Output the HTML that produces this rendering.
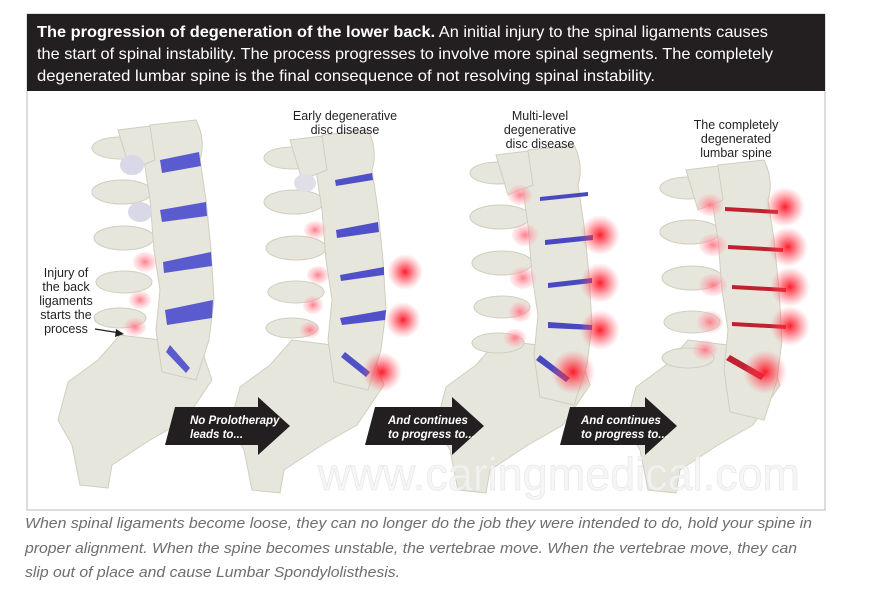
<!DOCTYPE html>
<html><head><meta charset="utf-8"><style>
html,body{margin:0;padding:0;background:#fff;width:885px;height:589px;overflow:hidden}
svg{display:block}
</style></head><body>
<svg width="885" height="589" viewBox="0 0 885 589" xmlns="http://www.w3.org/2000/svg">
<defs>
<radialGradient id="rg"><stop offset="0" stop-color="#ff1020" stop-opacity="0.95"/><stop offset="0.4" stop-color="#ff3040" stop-opacity="0.6"/><stop offset="1" stop-color="#ff6070" stop-opacity="0"/></radialGradient>
<radialGradient id="pk"><stop offset="0" stop-color="#ff7080" stop-opacity="0.9"/><stop offset="1" stop-color="#ffb0b8" stop-opacity="0.2"/></radialGradient>
<g id="sac" fill="#e7e6dc" stroke="#cfcebf" stroke-width="1">
  <path d="M120,335 L200,345 L212,380 L185,420 L150,440 L112,465 L108,488 L80,485 L72,445 L58,420 L68,382 L98,360 Z"/>
</g>
<g id="bones" fill="#e7e6dc" stroke="#cfcebf" stroke-width="1">
  <ellipse cx="120" cy="148" rx="28" ry="11"/>
  <ellipse cx="122" cy="192" rx="30" ry="12"/>
  <ellipse cx="124" cy="238" rx="30" ry="12"/>
  <ellipse cx="124" cy="282" rx="28" ry="11"/>
  <ellipse cx="120" cy="318" rx="26" ry="10"/>
  <path d="M150,125 L196,120 Q206,140 200,160 L206,200 L211,250 L214,300 L209,340 L196,380 L162,372 L156,330 L160,290 L154,250 L150,200 L144,160 Z"/>
  <path d="M118,130 L150,126 L155,160 L130,170 Z"/>
</g>
</defs>

<rect x="27" y="14" width="798" height="496" fill="#fff" stroke="#bbb" stroke-width="1"/>
<rect x="27" y="14" width="798" height="77" fill="#231f20"/>

<g font-family="'Liberation Sans',sans-serif" fill="#fff" font-size="16">
<text x="37" y="37" textLength="731" lengthAdjust="spacingAndGlyphs"><tspan font-weight="bold">The progression of degeneration of the lower back.</tspan> An initial injury to the spinal ligaments causes</text>
<text x="37" y="59" textLength="736" lengthAdjust="spacingAndGlyphs">the start of spinal instability. The process progresses to involve more spinal segments. The completely</text>
<text x="37" y="81" textLength="618" lengthAdjust="spacingAndGlyphs">degenerated lumbar spine is the final consequence of not resolving spinal instability.</text>
</g>

<!-- sacra (no vertical shift) -->
<use href="#sac"/>
<g transform="translate(172,5)"><use href="#sac"/></g>
<g transform="translate(378,5)"><use href="#sac"/></g>
<g transform="translate(568,5)"><use href="#sac"/></g>

<text x="318" y="490" font-family="'Liberation Sans',sans-serif" font-size="46" fill="#f4f4f4" fill-opacity="0.8" stroke="#e4e4e4" stroke-width="0.6" textLength="482" lengthAdjust="spacingAndGlyphs">www.caringmedical.com</text>

<!-- spine 1 -->
<use href="#bones"/>
<g fill="#5b5bd0">
<path d="M160,160 L199,152 L201,166 L162,173 Z"/>
<path d="M160,210 L206,202 L207,216 L162,222 Z"/>
<path d="M163,262 L211,252 L212,266 L164,273 Z"/>
<path d="M165,310 L213,300 L212,318 L167,325 Z"/>
<path d="M170,345 L190,368 L186,373 L166,352 Z"/>
</g>
<g fill="#d8d8e8"><ellipse cx="132" cy="165" rx="12" ry="10"/><ellipse cx="140" cy="212" rx="12" ry="10"/></g>
<g fill="url(#pk)"><ellipse cx="145" cy="262" rx="12" ry="10"/><ellipse cx="140" cy="300" rx="11" ry="9"/><ellipse cx="135" cy="327" rx="11" ry="9"/></g>

<!-- spine 2 -->
<g transform="translate(172,10)"><use href="#bones"/></g>
<g fill="#5050c8">
<path d="M335,180 L372,173 L373,180 L336,186 Z"/>
<path d="M336,230 L378,222 L379,232 L337,238 Z"/>
<path d="M340,275 L384,267 L384,275 L341,281 Z"/>
<path d="M340,318 L386,310 L385,320 L342,325 Z"/>
<path d="M345,352 L370,372 L366,377 L341,357 Z"/>
</g>
<g fill="#e0dfe8"><ellipse cx="305" cy="183" rx="11" ry="9"/></g>
<g fill="url(#pk)"><ellipse cx="315" cy="230" rx="11" ry="9"/><ellipse cx="318" cy="275" rx="11" ry="9"/><ellipse cx="313" cy="305" rx="10" ry="9"/><ellipse cx="310" cy="330" rx="10" ry="8"/></g>
<g fill="url(#rg)"><circle cx="405" cy="272" r="18"/><circle cx="403" cy="320" r="18"/><circle cx="382" cy="372" r="20"/></g>

<!-- spine 3 -->
<g transform="translate(378,25)"><use href="#bones"/></g>
<g fill="#4848c0">
<path d="M540,197 L588,192 L588,196 L540,201 Z"/>
<path d="M545,240 L593,235 L593,240 L545,245 Z"/>
<path d="M548,283 L592,278 L592,283 L548,288 Z"/>
<path d="M548,322 L592,325 L592,330 L548,328 Z"/>
<path d="M540,355 L570,378 L566,382 L536,360 Z"/>
</g>
<g fill="url(#pk)"><ellipse cx="520" cy="195" rx="12" ry="10"/><ellipse cx="525" cy="235" rx="13" ry="11"/><ellipse cx="523" cy="278" rx="13" ry="11"/><ellipse cx="520" cy="312" rx="11" ry="10"/><ellipse cx="515" cy="338" rx="11" ry="9"/></g>
<g fill="url(#rg)"><circle cx="600" cy="235" r="20"/><circle cx="600" cy="283" r="20"/><circle cx="600" cy="330" r="20"/><circle cx="573" cy="372" r="22"/></g>

<!-- spine 4 -->
<g transform="translate(568,40)"><use href="#bones"/></g>
<g fill="#c02030">
<path d="M725,207 L778,210 L778,214 L725,211 Z"/>
<path d="M728,245 L783,248 L783,252 L728,249 Z"/>
<path d="M732,285 L786,288 L786,292 L732,289 Z"/>
<path d="M732,322 L786,325 L786,329 L732,326 Z"/>
<path d="M730,355 L765,375 L761,380 L726,360 Z"/>
</g>
<g fill="url(#pk)"><ellipse cx="710" cy="205" rx="13" ry="11"/><ellipse cx="713" cy="245" rx="14" ry="11"/><ellipse cx="713" cy="285" rx="14" ry="11"/><ellipse cx="710" cy="322" rx="13" ry="11"/><ellipse cx="705" cy="350" rx="12" ry="10"/></g>
<g fill="url(#rg)"><circle cx="785" cy="207" r="20"/><circle cx="788" cy="247" r="20"/><circle cx="790" cy="287" r="20"/><circle cx="790" cy="326" r="20"/><circle cx="765" cy="372" r="22"/></g>

<!-- arrows -->
<g fill="#231f20">
<path d="M175,407 L258,407 L258,397 L290,426 L258,455 L258,445 L165,445 Z"/>
<path d="M375,407 L452,407 L452,397 L484,426 L452,455 L452,445 L365,445 Z"/>
<path d="M570,407 L645,407 L645,397 L677,426 L645,455 L645,445 L560,445 Z"/>
</g>
<g font-family="'Liberation Sans',sans-serif" font-style="italic" font-weight="bold" font-size="11.5" fill="#fff">
<text x="190" y="424">No Prolotherapy</text><text x="190" y="438">leads to...</text>
<text x="388" y="424">And continues</text><text x="388" y="438">to progress to...</text>
<text x="581" y="424">And continues</text><text x="581" y="438">to progress to...</text>
</g>

<g font-family="'Liberation Sans',sans-serif" font-size="12.5" fill="#231f20" text-anchor="middle">
<text x="66" y="277">Injury of</text><text x="66" y="291">the back</text><text x="66" y="305">ligaments</text><text x="66" y="319">starts the</text><text x="66" y="333">process</text>
<text x="345" y="120">Early degenerative</text><text x="345" y="134">disc disease</text>
<text x="540" y="120">Multi-level</text><text x="540" y="134">degenerative</text><text x="540" y="148">disc disease</text>
<text x="736" y="129">The completely</text><text x="736" y="143">degenerated</text><text x="736" y="157">lumbar spine</text>
</g>
<line x1="95" y1="329" x2="120" y2="333" stroke="#231f20" stroke-width="1.2"/>
<path d="M124,334 L116,329 L115,337 Z" fill="#231f20"/>

<g font-family="'Liberation Sans',sans-serif" font-style="italic" font-size="15" fill="#6e6e6e">
<text x="25" y="528" textLength="787" lengthAdjust="spacingAndGlyphs">When spinal ligaments become loose, they can no longer do the job they were intended to do, hold your spine in</text>
<text x="25" y="553" textLength="772" lengthAdjust="spacingAndGlyphs">proper alignment. When the spine becomes unstable, the vertebrae move. When the vertebrae move, they can</text>
<text x="25" y="577" textLength="375" lengthAdjust="spacingAndGlyphs">slip out of place and cause Lumbar Spondylolisthesis.</text>
</g>
</svg>
</body></html>
